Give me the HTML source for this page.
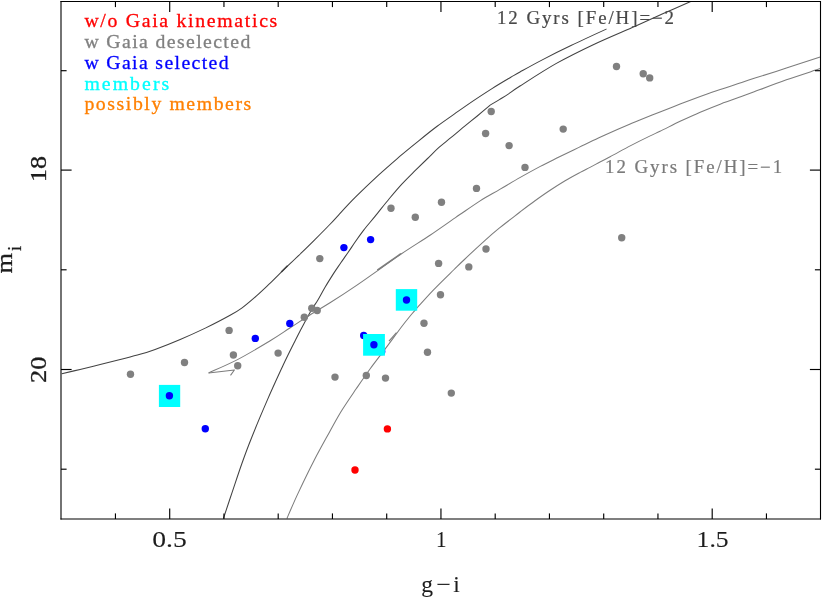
<!DOCTYPE html>
<html><head><meta charset="utf-8"><title>CMD</title><style>
html,body{margin:0;padding:0;background:#fff;}body{width:822px;height:598px;overflow:hidden;position:relative;}
svg{position:absolute;left:0;top:0;}text{font-family:"Liberation Serif",serif;}
</style></head><body>
<svg width="822" height="598" viewBox="0 0 822 598">
<rect x="0" y="0" width="822" height="598" fill="#fff"/>
<g fill="none" stroke-width="1.05" stroke-linejoin="round">
<path d="M61.8,373.8 C64.8,373.1 73.7,370.9 80.1,369.4 C86.5,367.9 93.5,366.2 100.2,364.6 C106.9,362.9 113.6,361.2 120.2,359.5 C126.8,357.8 134.2,356.0 140.0,354.3 C145.8,352.7 148.4,351.9 155.1,349.4 C161.8,346.9 171.8,343.0 180.2,339.4 C188.6,335.9 197.0,332.1 205.3,328.1 C213.6,324.0 224.0,318.6 230.1,315.2 C236.2,311.9 237.8,311.0 242.1,307.8 C246.4,304.6 251.5,300.2 256.2,296.1 C260.9,291.9 265.5,287.5 270.2,283.1 C274.9,278.6 279.3,274.1 284.3,269.2 C289.3,264.4 295.3,258.9 300.3,254.0 C305.3,249.1 309.5,245.0 314.4,240.1 C319.3,235.2 325.8,228.7 329.8,224.5 C333.9,220.3 334.5,219.4 338.8,214.8 C343.0,210.2 348.8,203.8 355.4,197.2 C362.0,190.6 371.1,181.9 378.5,175.1 C385.9,168.3 393.4,161.9 400.0,156.2 C406.6,150.6 412.3,146.0 418.4,141.1 C424.5,136.1 430.7,131.1 436.8,126.5 C442.9,121.9 449.1,117.7 455.2,113.4 C461.3,109.1 467.5,104.7 473.6,100.6 C479.7,96.5 485.9,92.5 492.0,88.6 C498.1,84.8 505.7,80.3 510.4,77.5 C515.1,74.8 514.8,74.9 520.0,72.0 C525.2,69.1 533.3,64.5 541.8,60.1 C550.3,55.6 560.2,50.6 571.0,45.5 C581.8,40.3 600.6,31.7 606.5,29.0" stroke="#424242"/>
<path d="M281.3,272.0 L287.6,265.8" stroke="#424242" stroke-width="1.6"/>
<path d="M223.4,518.5 C224.9,514.1 229.1,501.3 232.2,492.1 C235.3,482.9 238.7,472.5 241.9,463.5 C245.1,454.5 247.2,448.6 251.5,438.0 C255.7,427.4 262.1,412.1 267.4,399.9 C272.7,387.7 278.6,375.0 283.2,365.0 C287.9,355.0 292.6,345.8 295.5,340.0 C298.4,334.2 298.1,334.8 300.6,330.0 C303.2,325.2 308.0,316.0 310.9,311.0 C313.7,306.0 315.5,304.0 317.9,300.0 C320.3,296.0 322.6,291.4 325.2,287.0 C327.8,282.6 330.9,277.7 333.5,273.6 C336.1,269.5 338.6,266.1 341.0,262.5 C343.5,258.9 345.9,255.6 348.2,252.2 C350.6,248.8 352.7,245.5 355.3,241.8 C357.8,238.1 360.4,234.4 363.7,230.1 C367.0,225.8 370.9,221.5 375.2,216.2 C379.5,210.9 384.9,203.9 389.4,198.5 C393.9,193.1 397.9,188.3 402.3,183.6 C406.6,178.9 411.4,174.3 415.6,170.1 C419.8,166.0 423.8,162.2 427.6,158.5 C431.5,154.7 434.7,151.3 438.7,147.7 C442.7,144.2 447.2,140.8 451.5,137.2 C455.8,133.6 460.1,129.9 464.4,126.4 C468.7,122.9 473.0,119.5 477.3,116.0 C481.6,112.4 488.1,106.9 490.2,105.1" stroke="#424242"/>
<path d="M490.2,105.1 C491.7,104.2 496.3,101.5 499.4,99.6 C502.5,97.7 505.2,96.1 508.6,93.9 C512.0,91.6 512.0,91.1 520.0,86.0 C528.0,80.9 544.0,70.4 556.4,63.4 C568.8,56.4 581.2,50.4 594.3,44.2 C607.4,38.0 623.5,31.4 635.2,26.2 C646.9,21.0 655.1,17.3 664.4,13.1 C673.6,9.0 686.3,3.4 690.7,1.5" stroke="#424242"/>
<path d="M208.6,372.9 C213.4,370.7 227.2,364.9 237.5,359.6 C247.8,354.2 261.4,346.1 270.2,340.8 C279.0,335.5 283.6,332.1 290.3,327.8 C297.0,323.5 303.7,318.9 310.3,314.8 C316.9,310.6 322.5,307.5 330.0,302.8 C337.5,298.1 347.2,291.8 355.1,286.4 C363.1,281.1 370.0,276.0 377.7,270.6 C385.4,265.1 392.7,259.7 401.5,253.8 C410.3,247.8 421.4,241.0 430.4,235.0 C439.4,228.9 447.2,223.3 455.5,217.6 C463.8,212.0 472.7,205.7 480.1,200.9 C487.6,196.2 493.5,193.1 500.2,189.1 C506.9,185.2 513.6,181.2 520.3,177.4 C527.0,173.6 533.8,169.9 540.3,166.4 C546.8,163.0 553.1,160.0 559.5,156.8 C565.9,153.7 572.4,150.5 578.9,147.4 C585.4,144.3 591.9,141.1 598.4,138.1 C604.9,135.1 612.6,131.7 617.9,129.3 C623.2,127.0 626.7,125.5 630.2,124.0 C633.8,122.5 634.2,122.3 639.2,120.3 C644.2,118.3 653.2,114.6 660.0,111.9 C666.8,109.2 673.4,106.7 680.1,104.1 C686.8,101.6 693.5,99.1 700.2,96.6 C706.9,94.2 713.6,91.8 720.2,89.6 C726.8,87.3 734.3,84.9 740.0,83.0 C745.7,81.1 746.5,80.8 754.2,78.3 C761.9,75.8 775.4,71.6 786.4,68.1 C797.4,64.5 814.6,58.8 820.2,57.0" stroke="#7c7c7c"/>
<path d="M230.5,375.4 L234.4,370.0 L208.6,372.9" stroke="#7c7c7c"/>
<path d="M377.3,270.2 L400.9,253.7" stroke="#7c7c7c" stroke-width="1.5"/>
<path d="M286.9,518.5 C288.8,514.1 294.0,501.8 298.6,492.1 C303.2,482.4 309.0,470.4 314.2,460.3 C319.4,450.2 325.1,440.1 329.7,431.7 C334.4,423.3 337.7,416.9 342.2,409.8 C346.6,402.7 351.5,395.7 356.2,388.8 C360.9,381.9 365.3,375.4 370.2,368.7 C375.1,362.0 381.0,354.5 385.4,348.6 C389.9,342.7 393.6,337.5 396.8,333.2 C400.0,328.9 402.2,326.0 404.7,322.8 C407.2,319.6 409.7,316.6 411.8,314.0 C414.0,311.4 414.1,311.3 417.7,307.2 C421.4,303.1 427.8,295.8 433.8,289.6 C439.8,283.4 448.6,274.9 453.6,270.0 C458.6,265.1 458.6,265.0 463.9,260.0 C469.2,254.9 479.6,245.2 485.6,239.8 C491.7,234.4 494.5,232.1 500.2,227.4 C505.9,222.8 514.2,216.5 520.0,212.0 C525.8,207.6 530.0,204.4 535.0,200.8 C540.0,197.2 545.1,193.6 550.1,190.3 C555.1,187.0 560.1,183.8 565.1,180.8 C570.1,177.8 576.1,174.6 580.2,172.4 C584.4,170.2 586.7,169.1 590.0,167.4 C593.3,165.7 596.6,163.8 600.0,162.0 C603.4,160.3 605.1,159.4 610.1,156.7 C615.1,154.1 623.5,149.4 630.2,145.9 C636.9,142.4 645.2,138.3 650.2,135.9 C655.2,133.4 655.0,133.7 660.0,131.3 C665.0,128.9 673.4,124.5 680.1,121.3 C686.8,118.2 693.5,115.1 700.2,112.2 C706.9,109.4 713.6,106.7 720.2,104.2 C726.8,101.7 734.3,99.1 740.0,97.1 C745.7,95.0 746.5,94.7 754.2,91.8 C761.9,88.9 775.4,83.7 786.4,79.8 C797.4,76.0 814.6,70.5 820.2,68.6" stroke="#7c7c7c"/>
<path d="M389.0,341.2 L396.5,332.6" stroke="#7c7c7c" stroke-width="1.2"/>
</g>
<g fill="#808080">
<circle cx="130.5" cy="374.2" r="3.7"/>
<circle cx="184.5" cy="362.5" r="3.7"/>
<circle cx="229.1" cy="330.4" r="3.7"/>
<circle cx="233.4" cy="355" r="3.7"/>
<circle cx="237.7" cy="365.7" r="3.7"/>
<circle cx="278.1" cy="353.1" r="3.7"/>
<circle cx="304.3" cy="317.2" r="3.7"/>
<circle cx="311.8" cy="308.3" r="3.7"/>
<circle cx="317.2" cy="310.5" r="3.7"/>
<circle cx="319.8" cy="258.6" r="3.7"/>
<circle cx="335" cy="377.1" r="3.7"/>
<circle cx="366.3" cy="375.5" r="3.7"/>
<circle cx="385.5" cy="378.1" r="3.7"/>
<circle cx="391" cy="208.3" r="3.7"/>
<circle cx="415.3" cy="217.2" r="3.7"/>
<circle cx="441.5" cy="202.2" r="3.7"/>
<circle cx="476.5" cy="188.4" r="3.7"/>
<circle cx="485.6" cy="133.5" r="3.7"/>
<circle cx="491.2" cy="111.5" r="3.7"/>
<circle cx="509.1" cy="145.6" r="3.7"/>
<circle cx="525" cy="167.4" r="3.7"/>
<circle cx="563.2" cy="129.1" r="3.7"/>
<circle cx="616.5" cy="66.5" r="3.7"/>
<circle cx="643.2" cy="73.8" r="3.7"/>
<circle cx="649.7" cy="77.9" r="3.7"/>
<circle cx="621.7" cy="237.7" r="3.7"/>
<circle cx="486" cy="249" r="3.7"/>
<circle cx="468.8" cy="266.9" r="3.7"/>
<circle cx="438.6" cy="263.4" r="3.7"/>
<circle cx="440.5" cy="294.8" r="3.7"/>
<circle cx="424" cy="323.2" r="3.7"/>
<circle cx="427.5" cy="352.2" r="3.7"/>
<circle cx="451.3" cy="393.1" r="3.7"/>
</g><g fill="#0000ff">
<circle cx="343.9" cy="247.6" r="3.7"/>
<circle cx="370.6" cy="239.6" r="3.7"/>
<circle cx="289.8" cy="323.5" r="3.7"/>
<circle cx="255.3" cy="338.4" r="3.7"/>
<circle cx="363.7" cy="335.5" r="3.7"/>
<circle cx="381.7" cy="351.5" r="3.7"/>
<circle cx="205.3" cy="428.8" r="3.7"/>
</g><g fill="#ff0000">
<circle cx="387.4" cy="428.9" r="3.7"/>
<circle cx="355" cy="470" r="3.7"/>
</g>
<rect x="158.9" y="384.9" width="21.3" height="22.1" fill="#00ffff"/>
<circle cx="169.4" cy="395.8" r="3.7" fill="#0000ff"/>
<rect x="363.1" y="334.0" width="21.8" height="21.7" fill="#00ffff"/>
<circle cx="373.9" cy="344.7" r="3.7" fill="#0000ff"/>
<rect x="395.8" y="289.1" width="21.4" height="21.6" fill="#00ffff"/>
<circle cx="406.5" cy="300" r="3.7" fill="#0000ff"/>
<g stroke="#000" stroke-width="1.1" fill="none">
<path d="M61.0,1.0 L61.0,519.5"/>
<path d="M820.5,1.0 L820.5,519.5"/>
<path d="M60.5,1.5 L821.0,1.5"/>
<path d="M60.5,519.0 L821.0,519.0"/>
</g>
<g stroke="#000" stroke-width="1.15" fill="none">
<path d="M115.45,519.0 L115.45,513.4"/>
<path d="M115.45,1.5 L115.45,7.1"/>
<path d="M169.70,519.0 L169.70,508.4"/>
<path d="M169.70,1.5 L169.70,12.1"/>
<path d="M223.95,519.0 L223.95,513.4"/>
<path d="M223.95,1.5 L223.95,7.1"/>
<path d="M278.20,519.0 L278.20,513.4"/>
<path d="M278.20,1.5 L278.20,7.1"/>
<path d="M332.45,519.0 L332.45,513.4"/>
<path d="M332.45,1.5 L332.45,7.1"/>
<path d="M386.70,519.0 L386.70,513.4"/>
<path d="M386.70,1.5 L386.70,7.1"/>
<path d="M440.95,519.0 L440.95,508.4"/>
<path d="M440.95,1.5 L440.95,12.1"/>
<path d="M495.20,519.0 L495.20,513.4"/>
<path d="M495.20,1.5 L495.20,7.1"/>
<path d="M549.45,519.0 L549.45,513.4"/>
<path d="M549.45,1.5 L549.45,7.1"/>
<path d="M603.70,519.0 L603.70,513.4"/>
<path d="M603.70,1.5 L603.70,7.1"/>
<path d="M657.95,519.0 L657.95,513.4"/>
<path d="M657.95,1.5 L657.95,7.1"/>
<path d="M712.20,519.0 L712.20,508.4"/>
<path d="M712.20,1.5 L712.20,12.1"/>
<path d="M766.45,519.0 L766.45,513.4"/>
<path d="M766.45,1.5 L766.45,7.1"/>
<path d="M61.0,70.7 L66.6,70.7"/>
<path d="M820.5,70.7 L814.9,70.7"/>
<path d="M61.0,170.1 L71.6,170.1"/>
<path d="M820.5,170.1 L809.9,170.1"/>
<path d="M61.0,269.8 L66.6,269.8"/>
<path d="M820.5,269.8 L814.9,269.8"/>
<path d="M61.0,369.5 L71.6,369.5"/>
<path d="M820.5,369.5 L809.9,369.5"/>
<path d="M61.0,469.2 L66.6,469.2"/>
<path d="M820.5,469.2 L814.9,469.2"/>
</g>
<g style="opacity:0.999">
<text transform="translate(152.2,547)" font-size="23" fill="#1c1c1c" stroke="#1c1c1c" stroke-width="0.1" textLength="34.5" lengthAdjust="spacingAndGlyphs">0.5</text>
<text transform="translate(436.0,547)" font-size="23" fill="#1c1c1c" stroke="#1c1c1c" stroke-width="0.1" textLength="10.5" lengthAdjust="spacingAndGlyphs">1</text>
<text transform="translate(696.6,547)" font-size="23" fill="#1c1c1c" stroke="#1c1c1c" stroke-width="0.1" textLength="32.0" lengthAdjust="spacingAndGlyphs">1.5</text>
<text transform="translate(421.3,591.7)" font-size="23.5" fill="#1c1c1c" stroke="#1c1c1c" stroke-width="0.1">g</text>
<text transform="translate(436.3,591.7)" font-size="23.5" fill="#1c1c1c" stroke="#1c1c1c" stroke-width="0.1" textLength="14.5" lengthAdjust="spacingAndGlyphs">−</text>
<text transform="translate(453.2,591.7)" font-size="23.5" fill="#1c1c1c" stroke="#1c1c1c" stroke-width="0.1">i</text>
<text transform="translate(46.1,181.9) rotate(-90)" font-size="24" fill="#1c1c1c" stroke="#1c1c1c" stroke-width="0.3" textLength="26.0" lengthAdjust="spacingAndGlyphs">18</text>
<text transform="translate(46.1,383.0) rotate(-90)" font-size="24" fill="#1c1c1c" stroke="#1c1c1c" stroke-width="0.3" textLength="26.4" lengthAdjust="spacingAndGlyphs">20</text>
<text transform="translate(12.2,273.6) rotate(-90)" font-size="24" fill="#1c1c1c" stroke="#1c1c1c" stroke-width="0.25" textLength="20.6" lengthAdjust="spacingAndGlyphs">m</text>
<text transform="translate(20.6,251) rotate(-90)" font-size="18.5" fill="#1c1c1c" stroke="#1c1c1c" stroke-width="0.25" textLength="5.2" lengthAdjust="spacingAndGlyphs">i</text>
<text transform="translate(84.4,27.3) scale(1.04,1)" font-size="19" fill="#ff0000" stroke="#ff0000" stroke-width="0.3" textLength="185.5" lengthAdjust="spacing">w/o Gaia kinematics</text>
<text transform="translate(84.4,47.9) scale(1.04,1)" font-size="19" fill="#808080" stroke="#808080" stroke-width="0.3" textLength="159.5" lengthAdjust="spacing">w Gaia deselected</text>
<text transform="translate(84.4,68.7) scale(1.04,1)" font-size="19" fill="#0000ff" stroke="#0000ff" stroke-width="0.3" textLength="138.6" lengthAdjust="spacing">w Gaia selected</text>
<text transform="translate(84.4,89.5) scale(1.04,1)" font-size="19" fill="#00ffff" stroke="#00ffff" stroke-width="0.3" textLength="81.6" lengthAdjust="spacing">members</text>
<text transform="translate(84.4,110.1) scale(1.04,1)" font-size="19" fill="#ff8000" stroke="#ff8000" stroke-width="0.3" textLength="160.5" lengthAdjust="spacing">possibly members</text>
<text transform="translate(497.0,24.2) scale(1.05,1)" font-size="18" fill="#484848" stroke="#484848" stroke-width="0.2" textLength="168.6" lengthAdjust="spacing">12 Gyrs [Fe/H]=−2</text>
<text transform="translate(605.1,173.3) scale(1.05,1)" font-size="18" fill="#7a7a7a" stroke="#7a7a7a" stroke-width="0.2" textLength="168.6" lengthAdjust="spacing">12 Gyrs [Fe/H]=−1</text>
</g>
</svg></body></html>
